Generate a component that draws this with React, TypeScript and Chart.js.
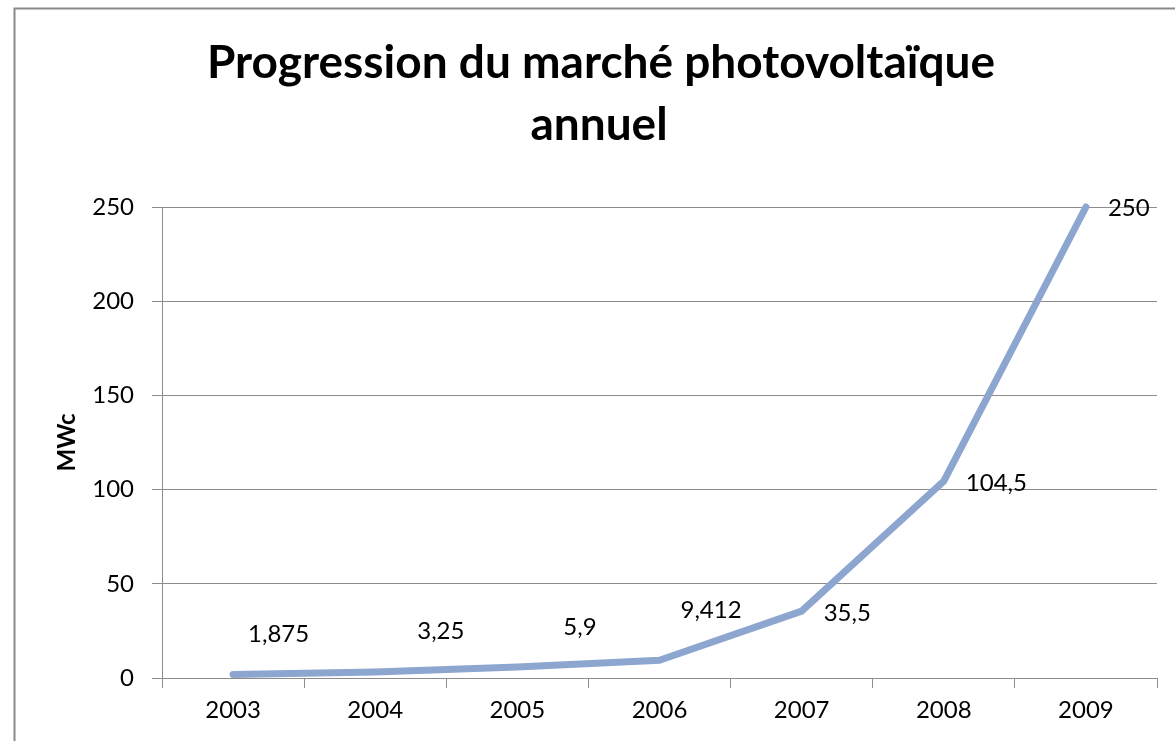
import React, { useEffect, useRef } from "react";
import { Chart, registerables } from "chart.js";

Chart.register(...registerables);

const years = ["2003", "2004", "2005", "2006", "2007", "2008", "2009"];
const marketMWc = [1.875, 3.25, 5.9, 9.412, 35.5, 104.5, 250];
const valueLabels = ["1,875", "3,25", "5,9", "9,412", "35,5", "104,5", "250"];
const yTicks = [0, 50, 100, 150, 200, 250];
const titleLines = ["Progression du marché photovoltaïque", "annuel"];
const yAxisTitle = "MWc";

// label placement offsets relative to each point (layout, not data)
const labelOffsets = [
  [15, -40],
  [42, -41],
  [46, -40],
  [21, -50],
  [22, 2],
  [22, 2],
  [22, 1],
];

const FONT = "Lato, 'Open Sans', sans-serif";
const GRID = "#8c8c8c";
const LINE = "#8da6cf";

const framePlugin = {
  id: "frame",
  beforeDraw(chart: any) {
    const { ctx, width, height } = chart;
    ctx.save();
    ctx.fillStyle = "#ffffff";
    ctx.fillRect(0, 0, width, height);
    ctx.strokeStyle = "#8a8a8a";
    ctx.lineWidth = 2;
    ctx.strokeRect(14.5, 8.5, width + 20, height + 20);
    ctx.restore();
  },
};

const titlePlugin = {
  id: "customTitle",
  afterDraw(chart: any) {
    const { ctx } = chart;
    ctx.save();
    ctx.fillStyle = "#000000";
    ctx.font = `bold 46px ${FONT}`;
    ctx.textAlign = "center";
    ctx.textBaseline = "alphabetic";
    ctx.fillText(titleLines[0], 601, 78);
    ctx.fillText(titleLines[1], 599, 140);
    ctx.restore();
  },
};

const labelPlugin = {
  id: "valueLabels",
  afterDatasetsDraw(chart: any) {
    const { ctx } = chart;
    const meta = chart.getDatasetMeta(0);
    ctx.save();
    ctx.fillStyle = "#000000";
    ctx.font = `24px ${FONT}`;
    ctx.textAlign = "left";
    ctx.textBaseline = "middle";
    meta.data.forEach((pt: any, i: number) => {
      const [dx, dy] = labelOffsets[i];
      ctx.fillText(valueLabels[i], pt.x + dx, pt.y + dy);
    });
    ctx.restore();
  },
};

export default function App() {
  const ref = useRef<HTMLCanvasElement | null>(null);

  useEffect(() => {
    let chart: Chart | null = null;
    let cancelled = false;
    document.body.style.margin = "0";

    const build = () => {
      if (cancelled || !ref.current) return;
      chart = new Chart(ref.current, {
        type: "line",
        data: {
          labels: years,
          datasets: [
            {
              data: marketMWc,
              borderColor: LINE,
              borderWidth: 7,
              pointRadius: 0,
              pointHoverRadius: 0,
              tension: 0,
              borderCapStyle: "round",
              borderJoinStyle: "round",
              fill: false,
              clip: false,
            },
          ],
        },
        options: {
          responsive: false,
          animation: false,
          events: [],
          layout: { padding: { top: 207, right: 18, left: 0, bottom: 0 } },
          plugins: {
            legend: { display: false },
            tooltip: { enabled: false },
            title: { display: false },
          },
          scales: {
            x: {
              type: "category",
              offset: true,
              grid: {
                offset: true,
                drawOnChartArea: false,
                drawTicks: true,
                tickLength: 10,
                color: GRID,
                lineWidth: 1,
              },
              border: { display: true, color: GRID, width: 1 },
              ticks: {
                color: "#000000",
                font: { family: FONT, size: 24 },
                padding: 8,
                maxRotation: 0,
              },
              afterFit(scale: any) {
                scale.height = 63;
              },
            },
            y: {
              min: 0,
              max: 250,
              afterBuildTicks(scale: any) {
                scale.ticks = yTicks.map((v) => ({ value: v }));
              },
              grid: {
                color: GRID,
                lineWidth: 1,
                drawTicks: true,
                tickLength: 10,
              },
              border: { display: true, color: GRID, width: 1 },
              ticks: {
                color: "#000000",
                font: { family: FONT, size: 24 },
                padding: 18,
              },
              title: {
                display: true,
                text: yAxisTitle,
                color: "#000000",
                font: { family: FONT, size: 24, weight: "bold" },
                padding: { top: 53, bottom: 0 },
              },
              afterFit(scale: any) {
                scale.width = 162;
              },
            },
          },
        },
        plugins: [framePlugin, titlePlugin, labelPlugin],
      });
    };

    const fontsReady = (document as any).fonts
      ? Promise.all([
          (document as any).fonts.load(`bold 46px Lato`),
          (document as any).fonts.load(`24px Lato`),
        ]).catch(() => null)
      : Promise.resolve(null);
    fontsReady.then(build);

    return () => {
      cancelled = true;
      if (chart) chart.destroy();
    };
  }, []);

  return (
    <div style={{ position: "absolute", left: 0, top: 0, width: 1175, height: 741 }}>
      <canvas ref={ref} width={1175} height={741} />
    </div>
  );
}
